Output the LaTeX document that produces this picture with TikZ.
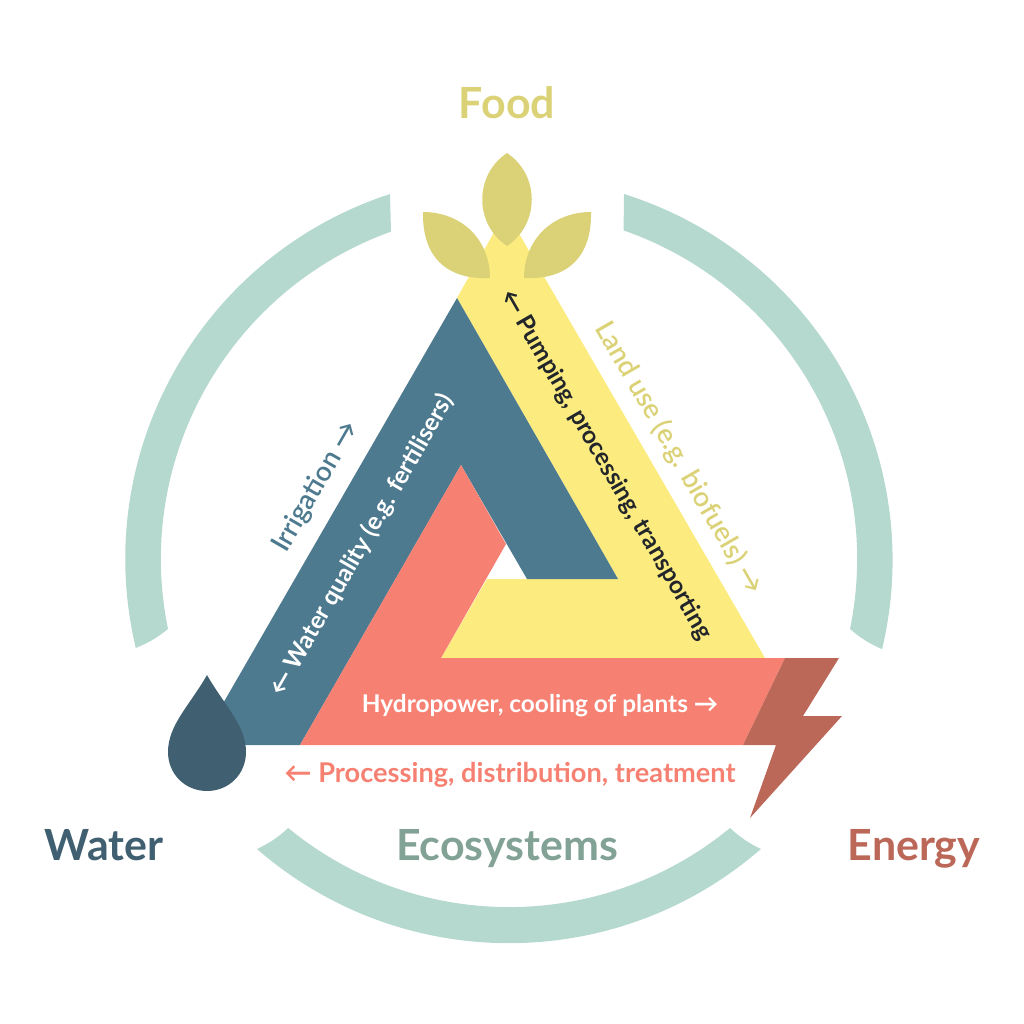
\documentclass[tikz,border=0pt]{standalone}
\usepackage{fontspec}
\setmainfont{Lato}
\newfontfamily\latosemi{Lato Semibold}
\usepackage{tikz}
\usetikzlibrary{positioning}
\definecolor{ringcol}{HTML}{B5D9CE}
\definecolor{wheatcol}{HTML}{FCEC80}
\definecolor{leafcol}{HTML}{DBD277}
\definecolor{watercol}{HTML}{4E7A8F}
\definecolor{dropcol}{HTML}{406072}
\definecolor{powercol}{HTML}{F68172}
\definecolor{boltcol}{HTML}{BC6858}
\definecolor{ecocol}{HTML}{82A295}
\definecolor{inkcol}{HTML}{22262B}

\begin{document}
\begin{tikzpicture}[x=0.75pt, y=-0.75pt,
    title/.style = {font=\fontsize{32.2}{32.2}\selectfont\bfseries, inner sep=0pt, anchor=base},
    inlabel/.style = {font=\fontsize{18.3}{18.3}\selectfont\bfseries, inner sep=0pt},
    outlabel/.style = {font=\fontsize{20.6}{20.6}\selectfont\latosemi, inner sep=0pt}]
    \useasboundingbox (0,0) rectangle (1024,1024);

    % ring
    \fill[ringcol] (390,194) arc[start angle=108.1, end angle=193.4, radius=288pt] to[bend right=8] (168,629) arc[start angle=191.6, end angle=109.8, radius=261pt] -- cycle;
    \fill[ringcol] (624,194) arc[start angle=72.5, end angle=-13.4, radius=288pt] to[bend left=8] (850,629) arc[start angle=-11.6, end angle=70.8, radius=261pt] -- cycle;
    \fill[ringcol] (257,849) arc[start angle=229, end angle=311, radius=288pt] to[bend left=8] (730,828) arc[start angle=309.4, end angle=230.6, radius=261pt] to[bend left=8] (257,849) -- cycle;

    % triangle
    \fill[wheatcol] (506,211) -- (765,658) -- (441,658) -- (487,579) -- (618,579) -- (457,298) -- cycle;
    \fill[watercol] (457,298) -- (618,579) -- (527,579) -- (461,465) -- (300,745) -- (199,745) -- cycle;
    \fill[powercol] (461,465) -- (506,544) -- (441,658) -- (785,658) -- (743,745) -- (300,745) -- cycle;

    % icons
    \fill[leafcol] (507,153) .. controls (474,175) and (474,224) .. (507,246) .. controls (540,224) and (540,175) .. (507,153) -- cycle;
    \fill[leafcol] (423,212) .. controls (462,212) and (490,240) .. (490,278) .. controls (452,280) and (422,262) .. (423,212) -- cycle;
    \fill[leafcol] (591,212) .. controls (552,212) and (524,240) .. (524,278) .. controls (562,280) and (592,262) .. (591,212) -- cycle;
    \fill[dropcol] (207,675) .. controls (190,705) and (168,725) .. (168,752) .. controls (168,774) and (185,791) .. (207,791) .. controls (229,791) and (246,774) .. (246,752) .. controls (246,725) and (224,705) .. (207,675) -- cycle;
    \fill[boltcol] (785,658) -- (839,658) -- (803,716) -- (842,716) -- (750,818) -- (776,745) -- (743,745) -- cycle;

    % labels
    \node[title, text=leafcol] (food) at (507,118) {Food};
    \node[title, text=dropcol] (water) at (104,860) {Water};
    \node[title, text=ecocol] (eco) at (507,860) {Ecosystems};
    \node[title, text=boltcol] (energy) at (914,860) {Energy};

    \node[inlabel, text=inkcol, rotate=-60] (pump) at (606,465) {← Pumping, processing, transporting};
    \node[outlabel, text=leafcol, rotate=-60] (land) at (679,458) {Land use (e.g. biofuels) →};
    \node[inlabel, text=white, rotate=60] (quality) at (362,545) {← Water quality (e.g. fertilisers)};
    \node[outlabel, text=watercol, rotate=60] (irrigation) at (316,487) {Irrigation →};
    \node[inlabel, text=white, anchor=base] (hydro) at (540,712) {Hydropower, cooling of plants →};
    \node[outlabel, text=powercol, anchor=base, font=\fontsize{20.4}{20.4}\selectfont\bfseries] (treat) at (510,782) {← Processing, distribution, treatment};
\end{tikzpicture}
\end{document}
